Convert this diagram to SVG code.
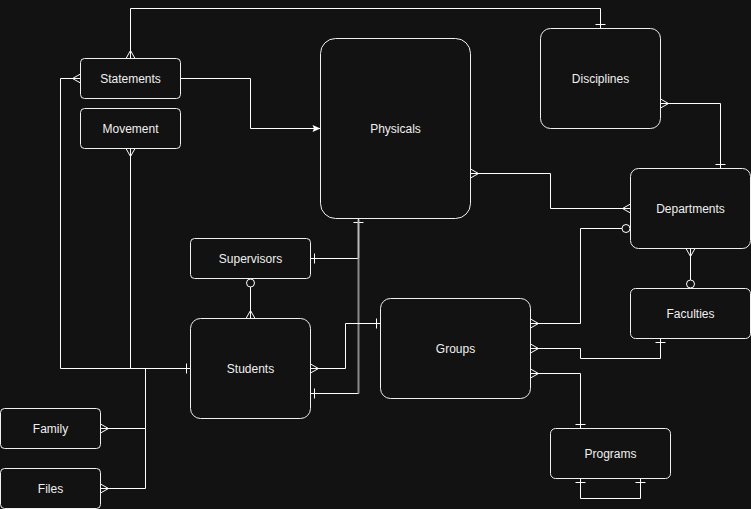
<svg xmlns="http://www.w3.org/2000/svg" width="751" height="509" viewBox="0 0 751 509">
<style>
.n rect{fill:#121212;stroke:#f0f0f0;stroke-width:1}
.n text{fill:#f0f0f0;font-family:"Liberation Sans",Arial,sans-serif;font-size:12px;text-anchor:middle;dominant-baseline:central}
.e path{fill:none;stroke:#ffffff;stroke-width:1}
.e .g1{stroke:#bdbdbd;stroke-width:2}
.e .g2{stroke:#8a8a8a;stroke-width:2}
</style>
<defs>
<marker id="many" markerUnits="userSpaceOnUse" viewBox="-12 -7 14 14" markerWidth="14" markerHeight="14" refX="0" refY="0" orient="auto-start-reverse">
<path d="M-8,0 L0,-4.5 M-8,0 L0,4.5 M-8,0 L0,0" fill="none" stroke="#ffffff" stroke-width="1"/>
</marker>
<marker id="one" markerUnits="userSpaceOnUse" viewBox="-12 -7 14 14" markerWidth="14" markerHeight="14" refX="0" refY="0" orient="auto-start-reverse">
<path d="M-4,-5 L-4,5" fill="none" stroke="#ffffff" stroke-width="1"/>
</marker>
<marker id="zero" markerUnits="userSpaceOnUse" viewBox="-12 -7 14 14" markerWidth="14" markerHeight="14" refX="0" refY="0" orient="auto-start-reverse">
<circle cx="-4.5" cy="0" r="4" fill="#121212" stroke="#ffffff" stroke-width="1"/>
</marker>
<marker id="arrow" markerUnits="userSpaceOnUse" viewBox="-10 -5 11 10" markerWidth="11" markerHeight="10" refX="0" refY="0" orient="auto">
<path d="M-8,-3.5 L0,0 L-8,3.5 L-6.5,0 Z" fill="#ffffff"/>
</marker>
</defs>
<rect width="751" height="509" fill="#121212"/>
<g transform="translate(0.5,0.5)">
<g id="connectors" class="e">
<path d="M130,58 V8 H600 V28" marker-start="url(#many)" marker-end="url(#one)"/>
<path d="M80,78 H60 V368 H190" marker-start="url(#many)" marker-end="url(#one)"/>
<path d="M130,148 V368" marker-start="url(#many)"/>
<path d="M180,78 H250 V128 H320" marker-end="url(#arrow)"/>
<path d="M470,173 H550 V208 H630" marker-start="url(#many)" marker-end="url(#many)"/>
<path d="M660,103 H720 V168" marker-start="url(#many)" marker-end="url(#one)"/>
<path d="M630,228 H580 V323 H530" marker-start="url(#zero)" marker-end="url(#many)"/>
<path d="M690,248 V288" marker-start="url(#many)" marker-end="url(#zero)"/>
<path d="M530,348 H580 V358 H660 V338" marker-start="url(#many)" marker-end="url(#one)"/>
<path d="M530,373 H580 V428" marker-start="url(#many)" marker-end="url(#one)"/>
<path d="M580,478 V498 H640 V478" marker-start="url(#one)" marker-end="url(#one)"/>
<path d="M358,218 V258 H310" marker-start="url(#one)" marker-end="url(#one)"/>
<path d="M358,258 V393 H310" marker-end="url(#one)"/>
<path class="g1" d="M358,219 V258"/>
<path class="g2" d="M358,258 V393"/>
<path d="M310,368 H345 V323 H380" marker-start="url(#many)" marker-end="url(#one)"/>
<path d="M250,278 V318" marker-start="url(#zero)" marker-end="url(#many)"/>
<path d="M100,428 H145 V368" marker-start="url(#many)"/>
<path d="M100,488 H145 V428" marker-start="url(#many)"/>
</g>
<g id="statements" class="n"><rect x="80" y="58" width="100" height="40" rx="4"/><text x="130" y="78">Statements</text></g>
<g id="movement" class="n"><rect x="80" y="108" width="100" height="40" rx="4"/><text x="130" y="128">Movement</text></g>
<g id="physicals" class="n"><rect x="320" y="38" width="150" height="180" rx="15"/><text x="395" y="128">Physicals</text></g>
<g id="disciplines" class="n"><rect x="540" y="28" width="120" height="100" rx="10"/><text x="600" y="78">Disciplines</text></g>
<g id="departments" class="n"><rect x="630" y="168" width="120" height="80" rx="8"/><text x="690" y="208">Departments</text></g>
<g id="faculties" class="n"><rect x="630" y="288" width="120" height="50" rx="5"/><text x="690" y="313">Faculties</text></g>
<g id="supervisors" class="n"><rect x="190" y="238" width="120" height="40" rx="4"/><text x="250" y="258">Supervisors</text></g>
<g id="students" class="n"><rect x="190" y="318" width="120" height="100" rx="10"/><text x="250" y="368">Students</text></g>
<g id="groups" class="n"><rect x="380" y="298" width="150" height="100" rx="10"/><text x="455" y="348">Groups</text></g>
<g id="programs" class="n"><rect x="550" y="428" width="120" height="50" rx="5"/><text x="610" y="453">Programs</text></g>
<g id="family" class="n"><rect x="0" y="408" width="100" height="40" rx="4"/><text x="50" y="428">Family</text></g>
<g id="files" class="n"><rect x="0" y="468" width="100" height="40" rx="4"/><text x="50" y="488">Files</text></g>
</g>
</svg>
